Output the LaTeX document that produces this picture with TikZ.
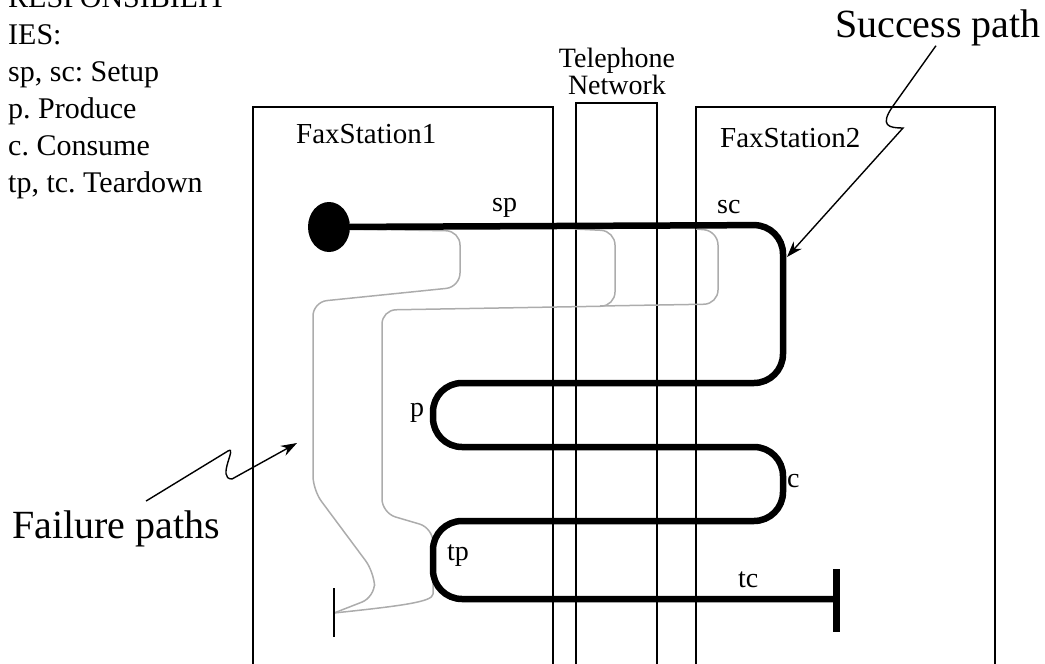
\documentclass[tikz,border=0pt]{standalone}
\usepackage{fontspec}
\setmainfont{Liberation Serif}
\usetikzlibrary{arrows.meta,calc,positioning,shapes.geometric}
\frenchspacing

\definecolor{failgray}{RGB}{172,172,172}

\tikzset{
  station/.style={line width=1.3pt},
  success/.style={line width=6.5pt, rounded corners=29pt},
  failure/.style={line width=1.5pt, draw=failgray, rounded corners=14pt},
  pointer/.style={line width=1.4pt, -{Stealth[length=16pt,width=11pt]}},
  lbl/.style={font=\fontsize{28}{30}\selectfont, inner sep=0pt, anchor=base west},
}

\begin{document}
\begin{tikzpicture}[x=1pt, y=-1pt]
  \useasboundingbox (0,0) rectangle (1045,664);

  % Responsibilities
  \foreach \txt [count=\i] in {RESPONSIBILIT, IES:, {sp, sc: Setup}, p. Produce, c. Consume, {tp, tc. Teardown}}
    \node[lbl, font=\fontsize{30}{36}\selectfont] (resp\i) at (8,{7+37*(\i-1)}) {\txt};

  % Components
  \draw[station] (253,670) -- (253,107) -- (553,107) -- (553,670);
  \draw[station] (576,670) -- (576,103) -- (657,103) -- (657,670);
  \draw[station] (696,670) -- (696,107) -- (995,107) -- (995,670);
  \node[lbl, font=\fontsize{29}{30}\selectfont] (fs1) at (296,143) {FaxStation1};
  \node[lbl, font=\fontsize{29}{30}\selectfont] (fs2) at (720,147) {FaxStation2};
  \node[font=\fontsize{28}{27}\selectfont, align=center, inner sep=0pt, anchor=south] (net) at (617,95) {Telephone\\Network};

  % Failure paths
  \coordinate (fend) at (334,613);
  \draw[failure] (350,229) -- (460,231) -- (460,287) -- (313,302) -- (313,490) -- (374,572) -- (375,597) -- (fend);
  \draw[failure] (575,229) -- (615,231) -- (615,306) -- (382,310) -- (382,513) -- (433,528) -- (433,580)
    .. controls (433,602) and (400,606) .. (fend);
  \draw[failure] (696,229) -- (718,231) -- (718,304) -- (600,306);
  \draw[line width=1.5pt] ([yshift=25pt]fend) -- ([yshift=-24pt]fend);

  % Success path
  \node[ellipse, fill, inner sep=0pt, minimum width=42pt, minimum height=50pt] (src) at (329,227) {};
  \coordinate (sink) at (836,599);
  \draw[success] (src) -- (783,225) -- (783,383) -- (433,383) -- (433,447) -- (783,447)
    -- (783,521) -- (433,521) -- (433,599) -- (sink);
  \draw[line width=7pt] ([yshift=30pt]sink) -- ([yshift=-33pt]sink);

  % Labels
  \node[lbl] (lsp) at (492,211) {sp};
  \node[lbl] (lsc) at (717,213) {sc};
  \node[lbl] (lp) at (410,416) {p};
  \node[lbl] (lc) at (787,487) {c};
  \node[lbl] (ltp) at (447,560) {tp};
  \node[lbl] (ltc) at (738,587) {tc};

  % Pointers
  \node[lbl, font=\fontsize{40}{44}\selectfont] (fail) at (12,538) {Failure paths};
  \node[lbl, font=\fontsize{40}{44}\selectfont] (succ) at (835,37) {Success path};
  \coordinate (failtip) at (297,443);
  \coordinate (succtip) at (787,257);
  \draw[pointer] ([xshift=30pt,yshift=9pt]fail.north) -- (228,451)
    .. controls (238,445) and (216,479) .. (232,479) -- (failtip);
  \draw[pointer] ([xshift=-2pt]succ.south) -- (893,106)
    .. controls (879,126) and (889,128) .. (903,128) -- (succtip);
\end{tikzpicture}
\end{document}
